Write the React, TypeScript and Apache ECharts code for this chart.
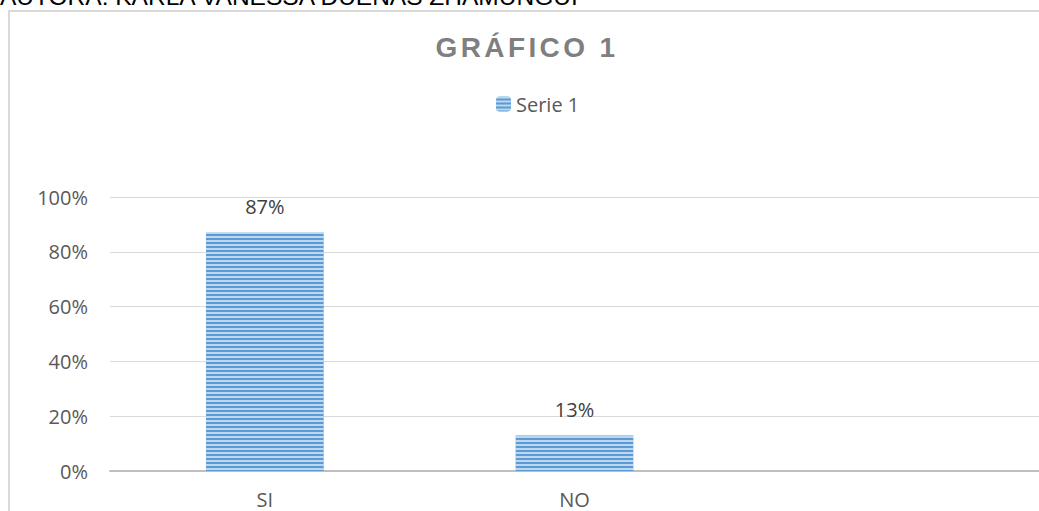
import React, { useEffect, useRef } from "react";
import * as echarts from "echarts";

const categories = ["SI", "NO", ""];
const seriesName = "Serie 1";
const values: (number | string)[] = [0.87, 0.13, "-"];
const yTicks = [0, 0.2, 0.4, 0.6, 0.8, 1];
const titleText = "GRÁFICO 1";
const authorText = "AUTORA: KARLA VANESSA DUEÑAS ZHAMUNGUI";

const FONT = "'Open Sans', 'Noto Sans', sans-serif";

export default function App() {
  const ref = useRef<HTMLDivElement>(null);
  useEffect(() => {
    if (!ref.current) return;
    const chart = echarts.init(ref.current, undefined, { renderer: "svg" });
    const option: any = {
      animation: false,
      backgroundColor: "#ffffff",
      grid: { left: 110, right: 0, top: 197, bottom: 40, containLabel: false },
      legend: {
        data: [seriesName],
        left: 491,
        top: 89,
        itemWidth: 15,
        itemHeight: 15,
        itemGap: 10,
        textStyle: { fontFamily: FONT, fontSize: 20, color: "#595959" },
      },
      xAxis: {
        type: "category",
        data: categories,
        boundaryGap: true,
        axisLine: { show: true, lineStyle: { color: "#bfbfbf", width: 2 } },
        axisTick: { show: false },
        axisLabel: { fontFamily: FONT, fontSize: 20, color: "#595959", margin: 18 },
        splitLine: { show: false },
      },
      yAxis: {
        type: "value",
        min: yTicks[0],
        max: yTicks[yTicks.length - 1],
        interval: 0.2,
        axisLine: { show: false },
        axisTick: { show: false },
        axisLabel: {
          fontFamily: FONT,
          fontSize: 20,
          color: "#595959",
          margin: 22,
          formatter: (v: number) => Math.round(v * 100) + "%",
        },
        splitLine: { show: true, lineStyle: { color: "#d9d9d9", width: 1 } },
      },
      series: [
        {
          name: seriesName,
          type: "bar",
          data: values,
          barWidth: "38%",
          itemStyle: {
            color: "#5B9BD5",
            decal: {
              symbol: "rect",
              symbolSize: 1,
              dashArrayX: [1, 0],
              dashArrayY: [2, 2],
              rotation: 0,
              color: "rgba(255,255,255,0.6)",
            },
          },
          label: {
            show: true,
            position: "top",
            distance: 16,
            fontFamily: FONT,
            fontSize: 20,
            color: "#404040",
            formatter: (p: any) => Math.round(p.value * 100) + "%",
          },
        },
      ],
      graphic: [
        {
          type: "rect",
          shape: { x: 9, y: 11, width: 1040, height: 510 },
          style: { fill: "none", stroke: "#d9d9d9", lineWidth: 2 },
          silent: true,
        },
        {
          type: "text",
          x: 0,
          y: 9,
          style: {
            text: authorText,
            font: "24.5px 'Liberation Sans', Arial, sans-serif",
            fill: "#000000",
            align: "left",
            verticalAlign: "bottom",
          },
          silent: true,
        },
        {
          type: "text",
          x: 527,
          y: 47,
          style: {
            text: titleText,
            font: "bold 28px 'Liberation Sans', Arial, sans-serif",
            fill: "#7f7f7f",
            align: "center",
            verticalAlign: "middle",
          },
          silent: true,
        },
      ],
    };
    chart.setOption(option);
    const applySpacing = () => {
      if (!ref.current) return;
      ref.current.querySelectorAll("text").forEach((t) => {
        if (t.textContent === titleText) t.setAttribute("letter-spacing", "3.4");
      });
    };
    applySpacing();
    chart.on("rendered", applySpacing);
    const tm = setTimeout(applySpacing, 50);
    return () => {
      clearTimeout(tm);
      chart.dispose();
    };
  }, []);
  return (
    <div
      ref={ref}
      style={{ position: "absolute", left: 0, top: 0, width: 1039, height: 511 }}
    />
  );
}
